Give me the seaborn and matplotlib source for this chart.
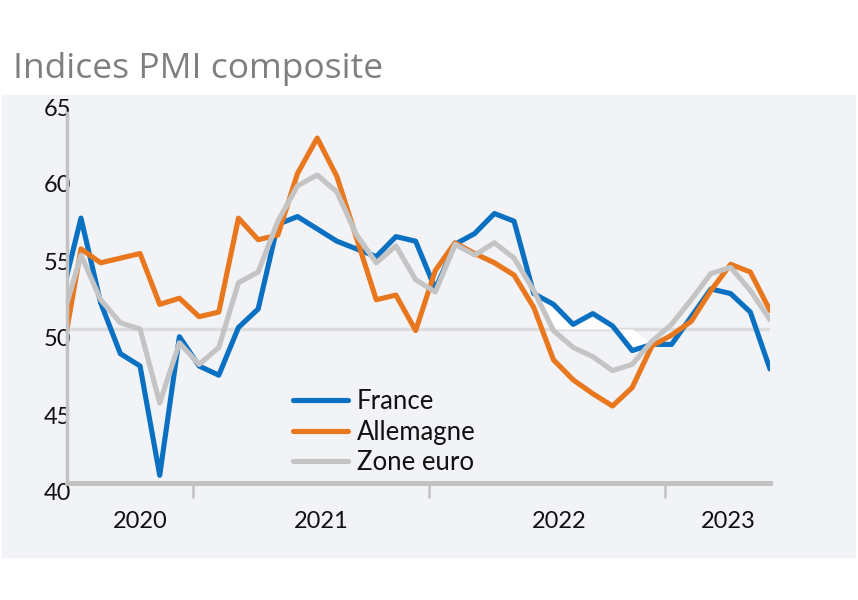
import matplotlib
matplotlib.use("Agg")
import matplotlib.pyplot as plt
import matplotlib.transforms as mtransforms
from matplotlib.patches import Rectangle
import numpy as np
import pandas as pd
import seaborn as sns

# mois 0 = juin 2020 ... 36 = juin 2023
mois = list(range(37))
france = [52.0, 57.2, 51.7, 48.4, 47.6, 40.5, 49.5, 47.6, 47.0, 50.1, 51.3, 56.8,
          57.3, 56.5, 55.7, 55.2, 54.7, 56.0, 55.7, 52.6, 55.5, 56.2, 57.5, 57.0,
          52.3, 51.6, 50.3, 51.0, 50.2, 48.6, 49.0, 49.0, 50.8, 52.6, 52.3, 51.1, 47.4]
allemagne = [47.9, 55.2, 54.3, 54.6, 54.9, 51.6, 52.0, 50.8, 51.1, 57.2, 55.8, 56.1,
             60.1, 62.4, 59.9, 55.9, 51.9, 52.2, 49.9, 53.8, 55.6, 54.9, 54.3, 53.5,
             51.4, 48.0, 46.7, 45.8, 45.0, 46.2, 48.9, 49.6, 50.5, 52.5, 54.2, 53.7, 51.2]
zone_euro = [50.4, 54.8, 51.9, 50.4, 50.0, 45.2, 49.1, 47.7, 48.8, 53.0, 53.7, 57.0,
             59.3, 60.0, 58.9, 56.1, 54.3, 55.4, 53.2, 52.4, 55.5, 54.8, 55.6, 54.6,
             52.5, 49.9, 48.8, 48.2, 47.3, 47.7, 49.2, 50.3, 51.9, 53.6, 54.0, 52.5, 50.6]
series = ["France", "Allemagne", "Zone euro"]
couleurs = ["#0a71c2", "#e8771e", "#c4c4c4"]
annees = ["2020", "2021", "2022", "2023"]
pos_annees = [4.0, 13.2, 25.3, 33.9]
limites_annees = [6.67, 18.67, 30.67]
y_ticks = [40, 45, 50, 55, 60, 65]

df = pd.DataFrame({
    "mois": mois * 3,
    "pmi": france + allemagne + zone_euro,
    "zone": [s for s in series for _ in mois],
})

sns.set_style("white")
plt.rcParams["font.family"] = ["Lato", "DejaVu Sans"]

fig = plt.figure(figsize=(8.58, 6), dpi=100)
fig.patches.append(Rectangle((2 / 858, 1 - 557 / 600), 853 / 858, 462 / 600,
                             transform=fig.transFigure, color="#f2f3f7", zorder=-5))
fig.text(13 / 858, 1 - 69 / 600, "Indices PMI composite", fontsize=25.5,
         family=["Open Sans", "DejaVu Sans"], color="#7f7f7f", ha="left", va="center")

ax = fig.add_axes([67 / 858, 1 - 483 / 600, (770 - 67) / 858, (483 - 98) / 600])
ax.set_facecolor("none")

ax.axhline(50, color="#dcdcdc", lw=2.5, zorder=1)

fr = np.array(france[24:31])
ez = np.array(zone_euro[24:31])
ax.fill_between(mois[24:31], fr, np.maximum(ez, 50), where=fr >= ez,
                interpolate=True, color="white", lw=0, zorder=1.5)

sns.lineplot(data=df, x="mois", y="pmi", hue="zone", hue_order=series,
             palette=couleurs, linewidth=3.7, legend=False, ax=ax, zorder=2)

ax.set_xlim(0.29, 36)
ax.set_ylim(40, 65)
ax.set_xlabel("")
ax.set_ylabel("")

for s in ["top", "right"]:
    ax.spines[s].set_visible(False)
ax.spines["left"].set_color("#c2c2c2")
ax.spines["left"].set_linewidth(2.5)
ax.spines["left"].set_bounds(40, 64)
ax.spines["bottom"].set_color("#c2c2c2")
ax.spines["bottom"].set_linewidth(3.5)

ax.set_xticks(limites_annees)
ax.set_xticklabels([])
ax.set_xticks(pos_annees, minor=True)
ax.set_xticklabels(annees, minor=True)
ax.tick_params(axis="x", which="major", length=11, width=1.8, color="#c2c2c2",
               direction="out", bottom=True)
ax.tick_params(axis="x", which="minor", length=0, pad=20, labelsize=17,
               labelcolor="#111111", bottom=True)

ax.set_yticks(y_ticks)
ax.set_yticklabels([str(v) for v in y_ticks])
ax.tick_params(axis="y", length=0, pad=-3, labelsize=17, labelcolor="#111111")
decalage = mtransforms.ScaledTranslation(0, -9 / 100, fig.dpi_scale_trans)
for lab in ax.get_yticklabels():
    lab.set_transform(lab.get_transform() + decalage)

handles = ax.get_lines()[1:4]
leg = ax.legend(handles, series, loc="upper left",
                bbox_to_anchor=(293 / 858, 1 - 389 / 600),
                bbox_transform=fig.transFigure, frameon=False, fontsize=18.5,
                handlelength=2.14, handletextpad=0.35, labelspacing=0.22,
                borderpad=0, borderaxespad=0)
for line in leg.get_lines():
    line.set_linewidth(3.7)
for t in leg.get_texts():
    t.set_color("#111111")

fig.savefig("out.png", dpi=100)
